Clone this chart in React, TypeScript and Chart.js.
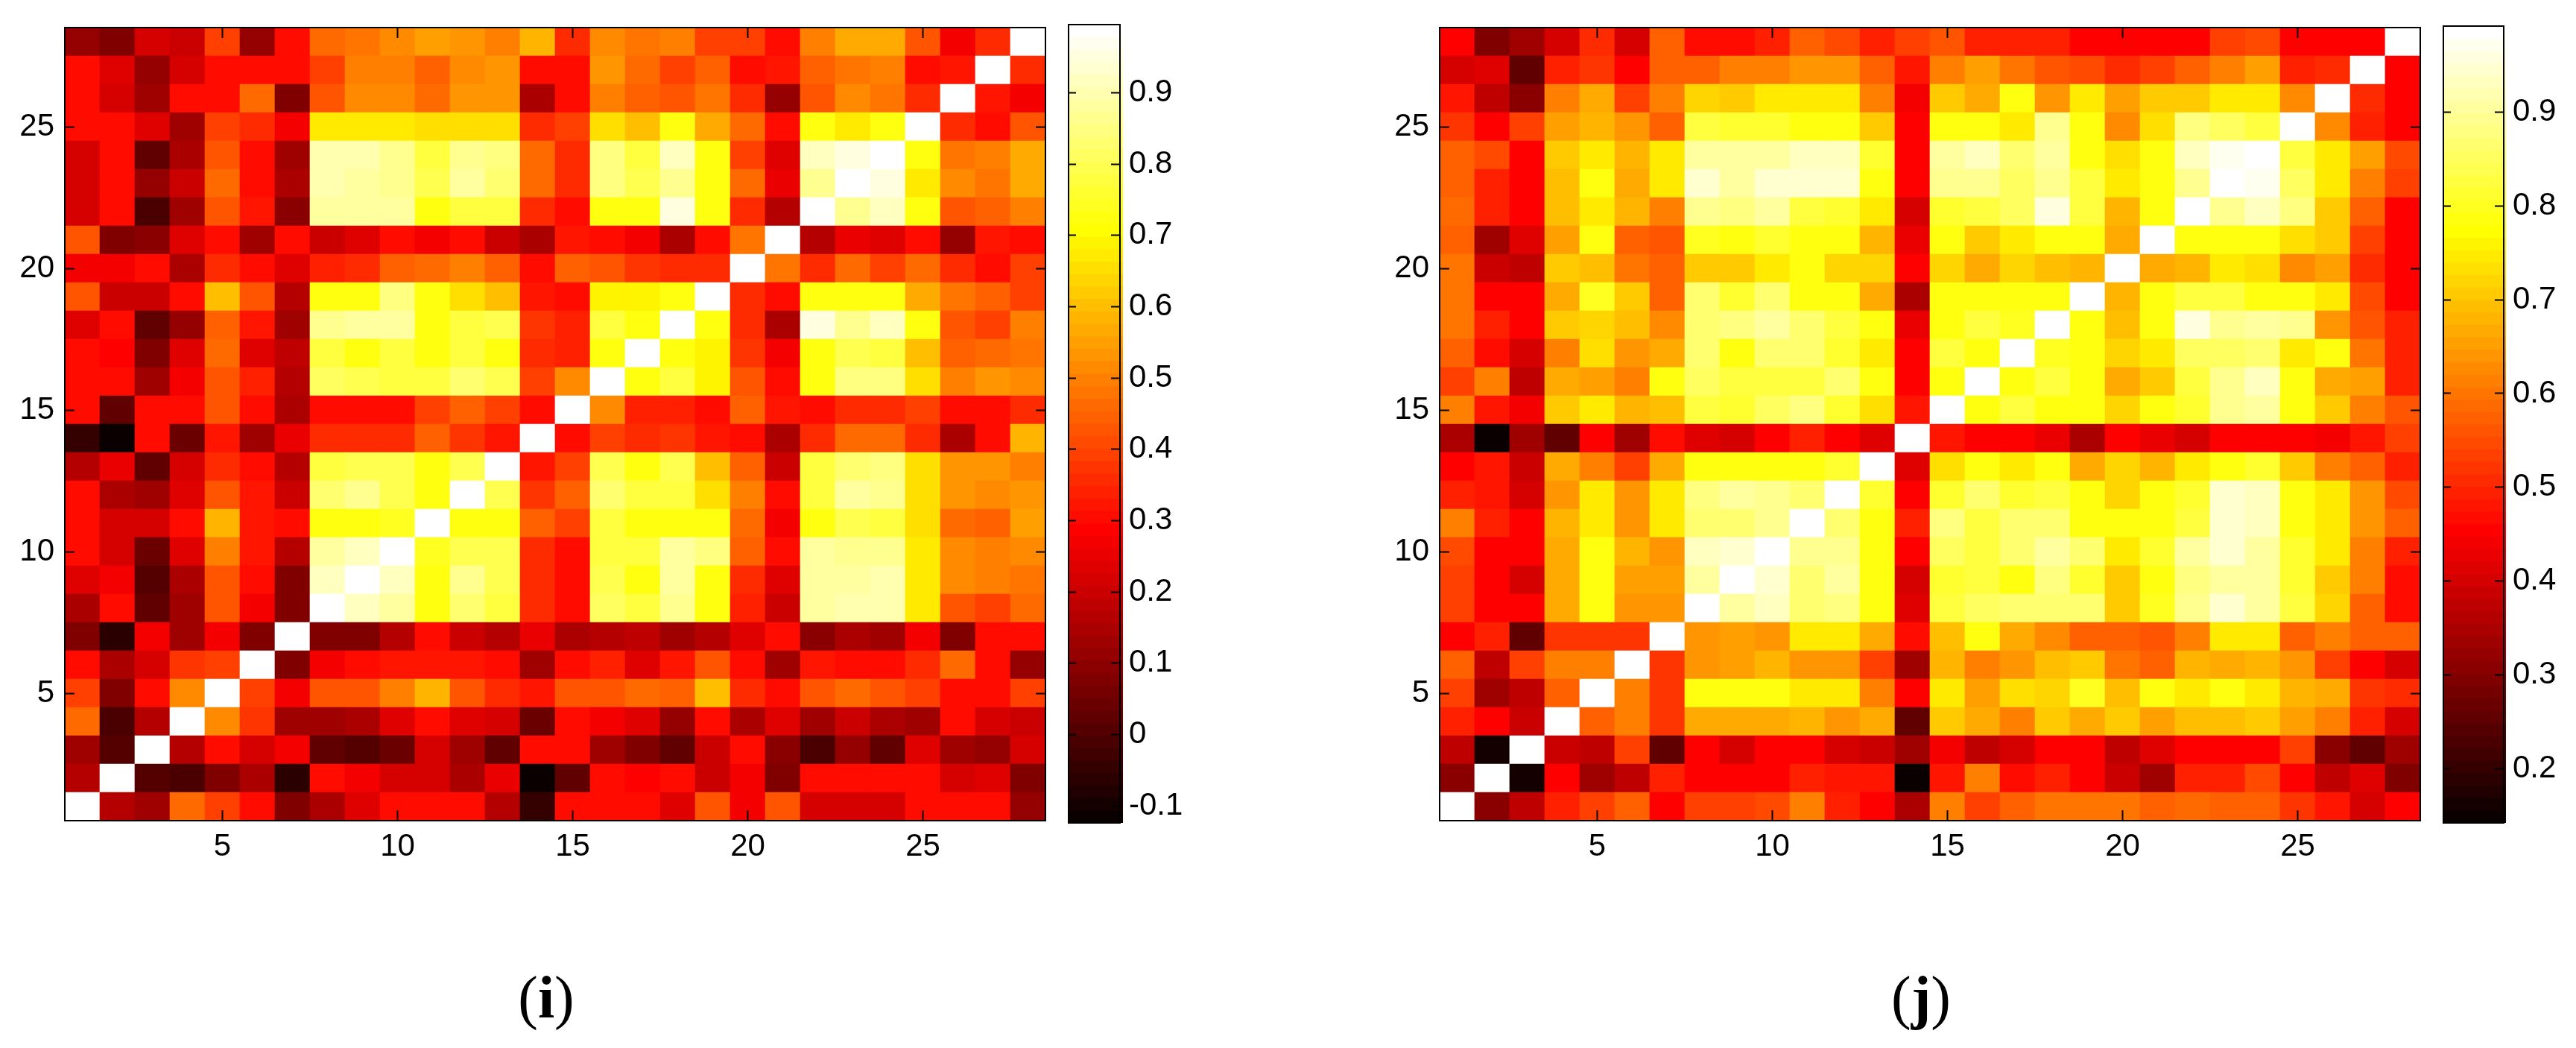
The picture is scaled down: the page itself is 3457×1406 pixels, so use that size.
import { useEffect, useRef } from "react"
import { Chart, registerables } from "chart.js"

Chart.register(...registerables)

const cellCount = 28
const axisTicks = [5, 10, 15, 20, 25]
const colorTicksI = [-0.1, 0, 0.1, 0.2, 0.3, 0.4, 0.5, 0.6, 0.7, 0.8, 0.9]
const colorTicksJ = [0.2, 0.3, 0.4, 0.5, 0.6, 0.7, 0.8, 0.9]

// colour limits
const limitsI = [-0.124, 0.9955]
const limitsJ = [0.142, 0.992]

// symmetric matrices, so only the lower triangle: row 1 first, each row ends on the diagonal
const rowsI = [
  [1],
  [.17, 1],
  [.13, .01, 1],
  [.47, -.01, .17, 1],
  [.40, .08, .30, .51, 1],
  [.30, .14, .22, .38, .39, 1],
  [.08, -.06, .27, .13, .27, .07, 1],
  [.15, .30, .03, .13, .42, .27, .07, 1],
  [.24, .27, .01, .14, .42, .30, .08, .92, 1],
  [.30, .22, .04, .24, .50, .32, .17, .89, .91, 1],
  [.30, .22, .22, .30, .59, .32, .30, .72, .72, .75, 1],
  [.30, .14, .13, .24, .43, .32, .20, .83, .87, .80, .73, 1],
  [.17, .25, .03, .22, .35, .30, .17, .77, .80, .80, .73, .80, 1],
  [-.05, -.12, .30, .04, .32, .13, .25, .35, .35, .35, .44, .38, .32, 1],
  [.30, .03, .30, .30, .42, .30, .14, .30, .30, .30, .40, .44, .40, .31, 1],
  [.30, .30, .13, .27, .43, .34, .17, .81, .80, .78, .78, .83, .80, .39, .51, 1],
  [.30, .29, .08, .23, .46, .23, .19, .78, .72, .77, .73, .78, .72, .35, .34, .72, 1],
  [.23, .30, .03, .11, .45, .32, .13, .87, .89, .88, .73, .77, .80, .38, .34, .77, .72, 1],
  [.42, .20, .20, .30, .60, .42, .17, .73, .72, .85, .72, .66, .61, .32, .30, .69, .69, .72, 1],
  [.27, .27, .30, .15, .36, .30, .23, .34, .36, .44, .47, .49, .44, .30, .45, .42, .38, .36, .36, 1],
  [.43, .08, .09, .24, .30, .13, .30, .20, .24, .30, .27, .30, .20, .15, .32, .30, .27, .14, .30, .48, 1],
  [.22, .30, -.01, .13, .43, .32, .09, .88, .88, .88, .72, .77, .77, .35, .31, .73, .73, .96, .73, .35, .17, 1],
  [.22, .30, .11, .20, .47, .30, .14, .90, .88, .87, .80, .88, .83, .47, .36, .85, .80, .87, .72, .47, .25, .87, 1],
  [.22, .30, .03, .14, .43, .30, .13, .90, .90, .87, .78, .87, .85, .46, .36, .85, .78, .92, .72, .40, .24, .91, .95, 1],
  [.30, .30, .23, .13, .39, .36, .27, .67, .67, .67, .65, .65, .65, .35, .39, .66, .61, .72, .57, .46, .30, .72, .67, .72, 1],
  [.30, .22, .13, .30, .30, .46, .08, .43, .51, .51, .46, .54, .54, .15, .30, .49, .44, .42, .48, .36, .11, .43, .51, .48, .36, 1],
  [.30, .24, .11, .22, .30, .30, .30, .40, .50, .50, .45, .51, .54, .30, .30, .54, .46, .40, .45, .30, .32, .45, .48, .49, .30, .32, 1],
  [.11, .08, .22, .20, .39, .11, .30, .46, .48, .51, .55, .54, .50, .58, .35, .51, .48, .50, .39, .39, .30, .49, .56, .56, .42, .27, .35, 1],
]

const rowsJ = [
  [1],
  [.31, 1],
  [.37, .16, 1],
  [.50, .46, .39, 1],
  [.54, .34, .37, .58, 1],
  [.57, .37, .54, .62, .61, 1],
  [.46, .50, .25, .52, .52, .52, 1],
  [.54, .46, .45, .67, .78, .64, .64, 1],
  [.54, .46, .40, .67, .78, .65, .65, .91, 1],
  [.55, .46, .46, .67, .78, .68, .64, .93, .95, 1],
  [.61, .50, .46, .68, .75, .64, .74, .86, .86, .89, 1],
  [.50, .48, .40, .64, .75, .64, .74, .88, .90, .89, .86, 1],
  [.46, .48, .39, .66, .62, .54, .66, .78, .78, .78, .78, .81, 1],
  [.35, .145, .34, .25, .46, .33, .47, .42, .40, .46, .50, .46, .42, 1],
  [.61, .48, .44, .70, .75, .68, .69, .83, .81, .85, .88, .81, .73, .48, 1],
  [.53, .61, .38, .67, .65, .61, .78, .85, .82, .82, .82, .87, .78, .46, .79, 1],
  [.58, .47, .40, .62, .73, .64, .66, .86, .79, .86, .86, .81, .74, .46, .82, .79, 1],
  [.60, .50, .46, .70, .72, .69, .63, .86, .88, .90, .86, .83, .78, .43, .79, .82, .80, 1],
  [.60, .46, .46, .67, .80, .70, .57, .86, .81, .86, .79, .78, .66, .35, .79, .78, .78, .78, 1],
  [.60, .39, .37, .70, .69, .60, .57, .71, .71, .74, .78, .72, .72, .46, .72, .67, .72, .69, .68, 1],
  [.57, .34, .42, .65, .78, .58, .56, .80, .79, .81, .78, .78, .68, .43, .78, .71, .75, .78, .79, .66, 1],
  [.59, .50, .46, .69, .75, .68, .62, .89, .88, .90, .83, .81, .75, .40, .81, .82, .85, .96, .83, .68, .78, 1],
  [.57, .50, .46, .69, .78, .66, .74, .94, .90, .94, .95, .94, .79, .46, .89, .89, .85, .89, .82, .75, .79, .89, 1],
  [.57, .55, .46, .70, .74, .68, .74, .91, .90, .90, .93, .93, .81, .46, .91, .93, .86, .91, .79, .73, .78, .93, .97, 1],
  [.52, .46, .53, .65, .68, .64, .58, .82, .81, .81, .79, .79, .71, .46, .78, .78, .75, .89, .78, .63, .73, .88, .85, .83, 1],
  [.48, .37, .31, .62, .66, .53, .61, .72, .71, .74, .74, .74, .62, .44, .70, .67, .78, .64, .74, .65, .71, .70, .75, .74, .63, 1],
  [.40, .42, .25, .50, .52, .46, .57, .57, .61, .61, .64, .64, .58, .48, .62, .65, .60, .56, .55, .51, .53, .57, .62, .65, .50, .51, 1],
  [.46, .30, .33, .40, .51, .40, .57, .47, .47, .50, .57, .55, .50, .54, .56, .50, .50, .50, .46, .46, .46, .46, .54, .55, .46, .46, .46, 1],
]

// MATLAB "hot" with 64 steps
function hotColor(level: number) {
  const r = Math.min(level / 24, 1)
  const g = Math.min(Math.max((level - 24) / 24, 0), 1)
  const b = Math.min(Math.max((level - 48) / 16, 0), 1)
  return `rgb(${Math.round(r * 255)},${Math.round(g * 255)},${Math.round(b * 255)})`
}

function levelOf(value: number, limits: number[]) {
  const level = Math.floor(((value - limits[0]) / (limits[1] - limits[0])) * 64) + 1
  return Math.min(Math.max(level, 1), 64)
}

const tickFont = { family: "'Liberation Sans', Arial, sans-serif", size: 42 }

// gives an axis a fixed thickness so the plot area lands where it should
function fixedBox(size: number) {
  return (scale: any) => {
    if (scale.isHorizontal()) scale.height = size
    else scale.width = size
    scale.paddingLeft = scale.paddingRight = scale.paddingTop = scale.paddingBottom = 0
  }
}

function boxAxis(position: string, limits: number[], ticks: number[], tickLength: number, labelPadding: number | null, size: number) {
  return {
    type: "linear",
    position,
    axis: position === "top" || position === "bottom" ? "x" : "y",
    min: limits[0],
    max: limits[1],
    offset: false,
    afterBuildTicks: (scale: any) => {
      scale.ticks = ticks.map((value) => ({ value }))
    },
    afterFit: fixedBox(size),
    grid: {
      offset: false,
      drawOnChartArea: false,
      tickLength: -tickLength,
      tickColor: "#000",
      tickWidth: 2,
      z: 1,
    },
    border: { display: true, color: "#000", width: 2, z: 1 },
    ticks: {
      display: labelPadding !== null,
      autoSkip: false,
      maxRotation: 0,
      padding: labelPadding ?? 0,
      color: "#000",
      font: tickFont,
      z: 1,
      callback: (value: number) => String(value),
    },
  }
}

function Heatmap({ rows, limits, left, top, width, height }: any) {
  const canvasRef = useRef<HTMLCanvasElement>(null)
  const pad = { left: 80, top: 10, right: 10, bottom: 80 }

  useEffect(() => {
    if (!canvasRef.current) return
    const range = [0.5, cellCount + 0.5]

    const datasets = rows.map((_: number[], r: number) => {
      const cells = Array.from({ length: cellCount }, (_c, c) => (c <= r ? rows[r][c] : rows[c][r]))
      return {
        data: cells.map((_v, c) => ({ x: c + 1, y: [r + 0.5, r + 1.5] })),
        backgroundColor: cells.map((v) => hotColor(levelOf(v, limits))),
        borderWidth: 0,
        barPercentage: 1,
        categoryPercentage: 1,
        grouped: false,
      }
    })

    const chart = new Chart(canvasRef.current, {
      type: "bar",
      data: { datasets },
      options: {
        animation: false,
        responsive: false,
        devicePixelRatio: 1,
        layout: { padding: 0 },
        plugins: { legend: { display: false }, tooltip: { enabled: false } },
        scales: {
          x: boxAxis("bottom", range, axisTicks, 14, 24, pad.bottom),
          x2: boxAxis("top", range, axisTicks, 14, null, pad.top),
          y: boxAxis("left", range, axisTicks, 13, 27, pad.left),
          y2: boxAxis("right", range, axisTicks, 13, null, pad.right),
        },
      } as any,
    })

    return () => {
      chart.destroy()
    }
  }, [])

  return (
    <canvas
      ref={canvasRef}
      width={width + pad.left + pad.right}
      height={height + pad.top + pad.bottom}
      style={{ position: "absolute", display: "block", left: left - pad.left, top: top - pad.top }}
    />
  )
}

function ColorBar({ limits, ticks, left, top, width, height, fringe }: any) {
  const canvasRef = useRef<HTMLCanvasElement>(null)
  const pad = { left: 10, top: 10, right: 90, bottom: 10 }

  useEffect(() => {
    if (!canvasRef.current) return

    // the colour strip pokes a few pixels out past the right edge of the box
    const stripWidth = 1 + fringe / width

    // dataset 0 is painted last, so every step runs up from the bottom and the lower ones cover it
    const datasets = Array.from({ length: 64 }, (_, i) => ({
      data: [{ x: stripWidth / 2, y: [limits[0], limits[0] + ((limits[1] - limits[0]) * (i + 1)) / 64] }],
      backgroundColor: hotColor(i + 1),
      borderWidth: 0,
      barPercentage: stripWidth,
      categoryPercentage: 1,
      grouped: false,
      clip: false,
    }))

    const chart = new Chart(canvasRef.current, {
      type: "bar",
      data: { datasets },
      options: {
        animation: false,
        responsive: false,
        devicePixelRatio: 1,
        layout: { padding: 0 },
        plugins: { legend: { display: false }, tooltip: { enabled: false } },
        scales: {
          x: boxAxis("bottom", [0, 1], [], 0, null, pad.bottom),
          x2: boxAxis("top", [0, 1], [], 0, null, pad.top),
          y: boxAxis("right", limits, ticks, 12, 24, pad.right),
          y2: boxAxis("left", limits, ticks, 10, null, pad.left),
        },
      } as any,
    })

    return () => {
      chart.destroy()
    }
  }, [])

  return (
    <canvas
      ref={canvasRef}
      width={width + pad.left + pad.right}
      height={height + pad.top + pad.bottom}
      style={{ position: "absolute", display: "block", left: left - pad.left, top: top - pad.top }}
    />
  )
}

function PanelLabel({ letter, center }: { letter: string; center: number }) {
  return (
    <div
      style={{
        position: "absolute",
        left: center - 100,
        width: 200,
        top: 1292,
        textAlign: "center",
        fontFamily: "'Liberation Serif', 'Times New Roman', serif",
        fontSize: 80,
        lineHeight: "92px",
        color: "#000",
      }}
    >
      (<b>{letter}</b>)
    </div>
  )
}

export default function App() {
  return (
    <div style={{ position: "absolute", left: 0, top: 0, width: 3457, height: 1406, overflow: "hidden", background: "#fff" }}>
      <Heatmap rows={rowsI} limits={limitsI} left={87} top={37} width={1316} height={1064} />
      <ColorBar limits={limitsI} ticks={colorTicksI} left={1434} top={33} width={69} height={1071} fringe={4} />
      <Heatmap rows={rowsJ} limits={limitsJ} left={1932} top={37} width={1316} height={1064} />
      <ColorBar limits={limitsJ} ticks={colorTicksJ} left={3279} top={35} width={81} height={1069} fringe={3} />
      <PanelLabel letter="i" center={733} />
      <PanelLabel letter="j" center={2578} />
    </div>
  )
}
